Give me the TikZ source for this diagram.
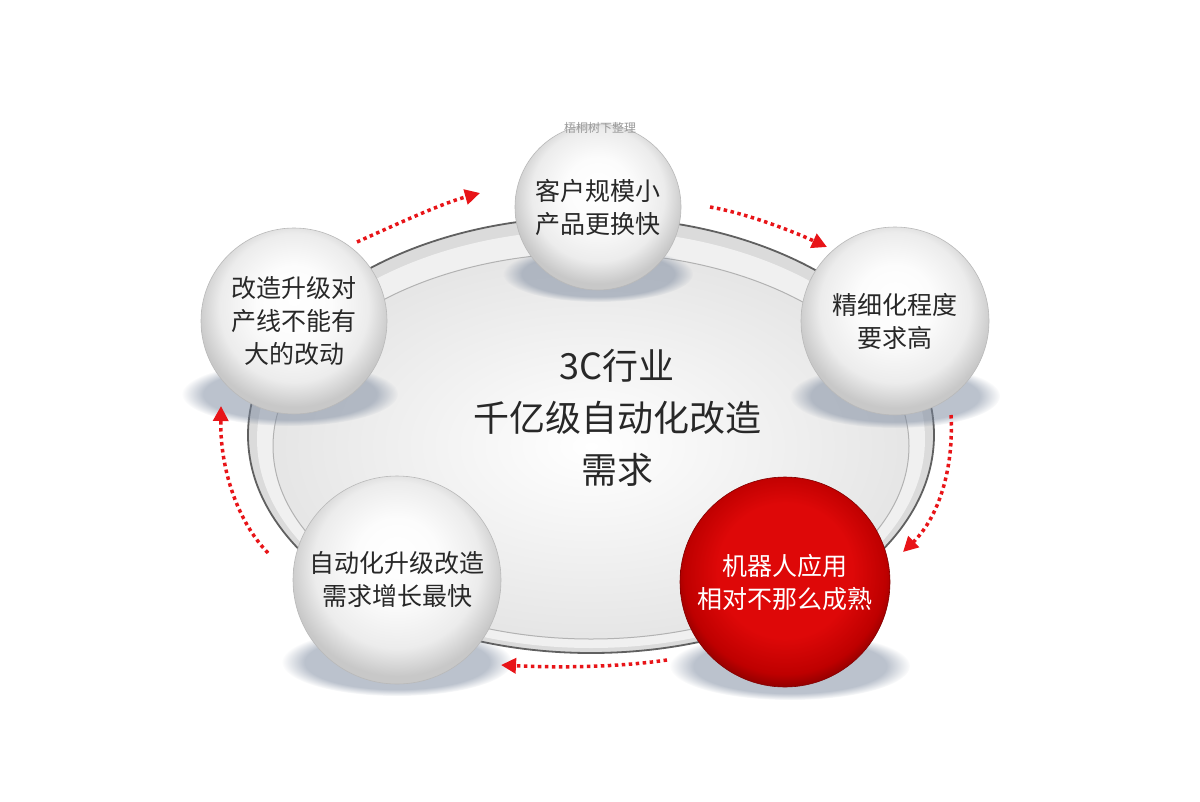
\documentclass[tikz,border=0pt]{standalone}
\usepackage{fontspec}
\setmainfont{Noto Sans CJK SC}
\usetikzlibrary{arrows.meta,fadings}
\definecolor{arrowred}{RGB}{232,20,24}
\definecolor{txtgray}{RGB}{40,40,40}
\definecolor{shadowblue}{RGB}{120,134,156}
\definecolor{sphR1}{RGB}{222,8,8}
\definecolor{sphR2}{RGB}{190,0,0}
\definecolor{sphR3}{RGB}{130,0,0}
\definecolor{sphW1}{RGB}{252,252,252}
\definecolor{sphW2}{RGB}{236,236,236}
\definecolor{sphW3}{RGB}{200,200,200}
\pgfdeclareradialshading{wsphere}{\pgfpoint{0bp}{6bp}}{color(0bp)=(white); color(10bp)=(sphW1); color(20bp)=(sphW2); color(26bp)=(sphW3); color(50bp)=(sphW3)}
\pgfdeclareradialshading{rsphere}{\pgfpoint{0bp}{4bp}}{color(0bp)=(sphR1); color(16bp)=(sphR1); color(24bp)=(sphR2); color(28bp)=(sphR3); color(50bp)=(sphR3)}
\begin{document}
\begin{tikzpicture}[x=1pt,y=-1pt,
  ball/.style={circle, inner sep=0pt, shading=wsphere, draw=gray!55, line width=0.6pt,
    text=txtgray, align=center, font=\fontsize{25}{33}\selectfont},
  redball/.style={ball, shading=rsphere, draw=sphR3, text=white},
  shadow/.style={fill=shadowblue, path fading=circle with fuzzy edge 20 percent, opacity=0.5},
  flow/.style={draw=arrowred, line width=3.5pt, dash pattern=on 3.5pt off 3.5pt,
    -{Triangle[length=15pt,width=15pt,fill=arrowred]}},
  hub/.style={text=txtgray, align=center, font=\fontsize{36}{52}\selectfont}]
\useasboundingbox (0,0) rectangle (1200,801);
\fill[white] (0,0) rectangle (1200,801);

% dish
\path[draw=gray!75!black, line width=1.8pt, fill=gray!28] (591,435) ellipse [x radius=343, y radius=218];
\path[fill=gray!12] (591,439) ellipse [x radius=334, y radius=209];
\shade[inner color=white, outer color=gray!20] (591,446) ellipse [x radius=318, y radius=193];
\path[draw=gray!60, line width=1pt] (591,446) ellipse [x radius=318, y radius=193];

% shadows
\fill[shadow] (598,274) ellipse [x radius=95, y radius=28];
\fill[shadow] (895,396) ellipse [x radius=105, y radius=32];
\fill[shadow] (790,666) ellipse [x radius=120, y radius=34];
\fill[shadow] (397,662) ellipse [x radius=115, y radius=34];
\fill[shadow] (290,394) ellipse [x radius=108, y radius=32];

% spheres
\node[ball, minimum size=166pt] (c1) at (598,207) {客户规模小\\产品更换快};
\node[ball, minimum size=188pt] (c2) at (895,321) {精细化程度\\要求高};
\node[redball, minimum size=210pt] (c3) at (785,582) {机器人应用\\相对不那么成熟};
\node[ball, minimum size=208pt] (c4) at (397,580) {自动化升级改造\\需求增长最快};
\node[ball, minimum size=186pt] (c5) at (294,321) {改造升级对\\产线不能有\\大的改动};

% centre text
\node[hub] (hubtext) at (617,418) {3C行业\\千亿级自动化改造\\需求};

% caption
\node[text=gray!80, font=\fontsize{12}{14}\selectfont] (cap) at (600,128) {梧桐树下整理};

% arrows
\coordinate (a1s) at (357,242); \coordinate (a1e) at (480,193);
\coordinate (a2s) at (710,207); \coordinate (a2e) at (827,247);
\coordinate (a3s) at (951,415); \coordinate (a3e) at (903,552);
\coordinate (a4s) at (667,660); \coordinate (a4e) at (501,665);
\coordinate (a5s) at (268,553); \coordinate (a5e) at (221,406);
\draw[flow] (a1s) .. controls (395,225) and (440,204) .. (a1e);
\draw[flow] (a2s) .. controls (745,213) and (790,230) .. (a2e);
\draw[flow] (a3s) .. controls (954,470) and (938,518) .. (a3e);
\draw[flow] (a4s) .. controls (620,667) and (560,668) .. (a4e);
\draw[flow] (a5s) .. controls (238,522) and (220,470) .. (a5e);
\end{tikzpicture}
\end{document}
